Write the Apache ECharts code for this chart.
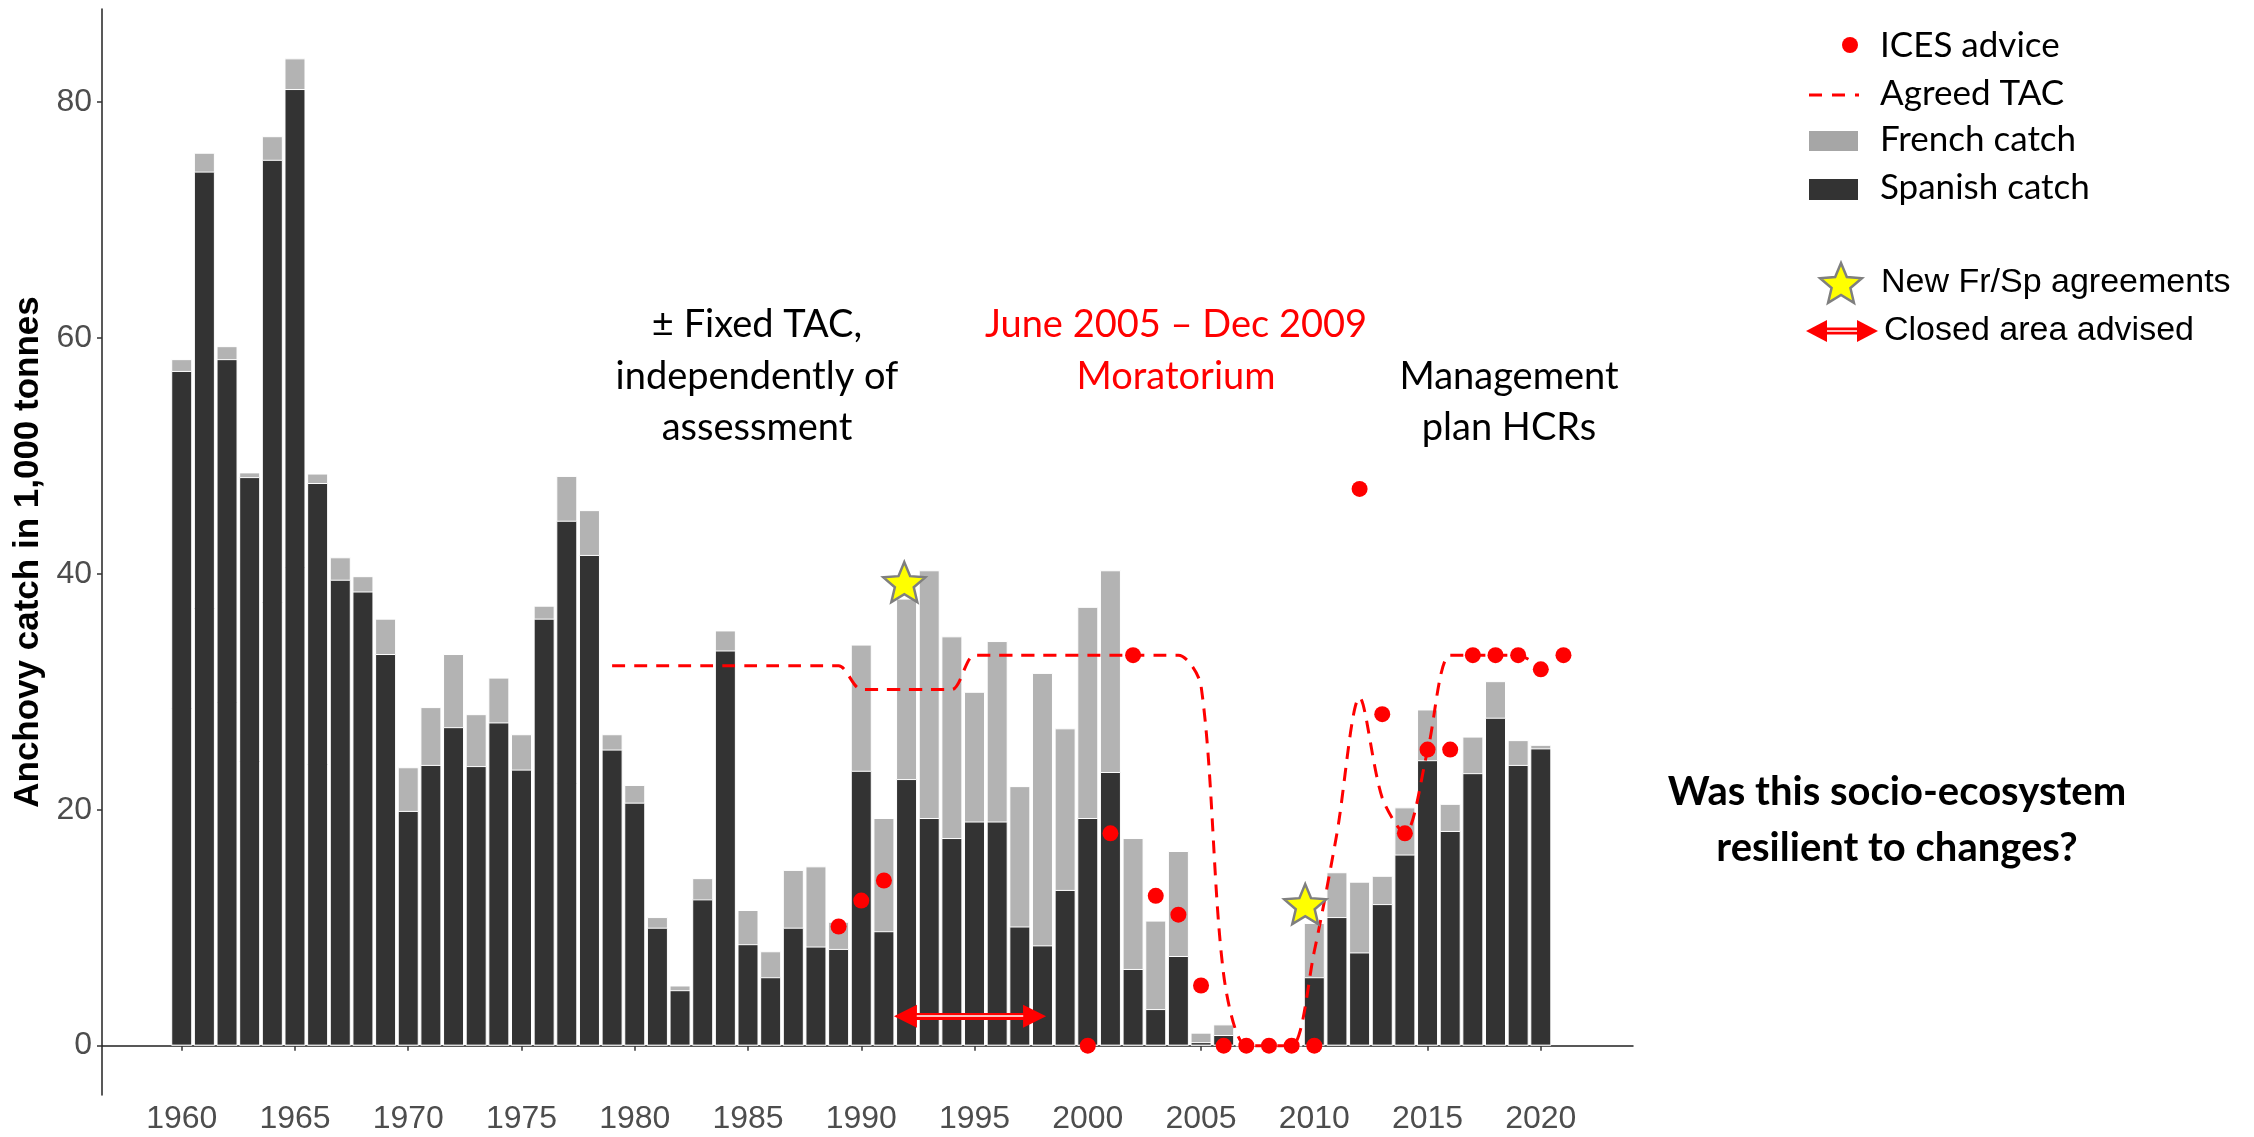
<!DOCTYPE html>
<html>
<head>
<meta charset="utf-8">
<title>Bay of Biscay anchovy catch</title>
<script src="https://cdn.jsdelivr.net/npm/echarts@6/dist/echarts.min.js"></script>
<style>
html, body { margin: 0; padding: 0; background: #fff; }
#chart { width: 2254px; height: 1137px; }
</style>
</head>
<body>
<div id="chart"></div>
<script>
// catch per year, thousand tonnes
var years = [1960, 1961, 1962, 1963, 1964, 1965, 1966, 1967, 1968, 1969,
  1970, 1971, 1972, 1973, 1974, 1975, 1976, 1977, 1978, 1979,
  1980, 1981, 1982, 1983, 1984, 1985, 1986, 1987, 1988, 1989,
  1990, 1991, 1992, 1993, 1994, 1995, 1996, 1997, 1998, 1999,
  2000, 2001, 2002, 2003, 2004, 2005, 2006, 2007, 2008, 2009,
  2010, 2011, 2012, 2013, 2014, 2015, 2016, 2017, 2018, 2019, 2020]
var spanish = [57.2, 74.1, 58.2, 48.2, 75.1, 81.1, 47.7, 39.5, 38.5, 33.2,
  19.9, 23.8, 27.0, 23.7, 27.4, 23.4, 36.2, 44.5, 41.6, 25.1,
  20.6, 10.0, 4.7, 12.4, 33.5, 8.6, 5.8, 10.0, 8.4, 8.2,
  23.3, 9.7, 22.6, 19.3, 17.6, 19.0, 19.0, 10.1, 8.5, 13.2,
  19.3, 23.2, 6.5, 3.1, 7.6, 0.3, 0.9, 0, 0, 0,
  5.8, 10.9, 7.9, 12.0, 16.2, 24.2, 18.2, 23.1, 27.8, 23.8, 25.2]
var french = [1.0, 1.6, 1.1, 0.4, 2.0, 2.6, 0.8, 1.9, 1.3, 3.0,
  3.7, 4.9, 6.2, 4.4, 3.8, 3.0, 1.1, 3.8, 3.8, 1.3,
  1.5, 0.9, 0.4, 1.8, 1.7, 2.9, 2.2, 4.9, 6.8, 2.3,
  10.7, 9.6, 15.3, 21.0, 17.1, 11.0, 15.3, 11.9, 23.1, 13.7,
  17.9, 17.1, 11.1, 7.5, 8.9, 0.8, 0.9, 0, 0, 0,
  4.6, 3.8, 6.0, 2.4, 4.0, 4.3, 2.3, 3.1, 3.1, 2.1, 0.3]

// ICES advice
var adviceYears = [1989, 1990, 1991, 2000, 2001, 2002, 2003, 2004, 2005, 2006, 2007, 2008,
  2009, 2010, 2012, 2013, 2014, 2015, 2016, 2017, 2018, 2019, 2020, 2021]
var adviceValues = [10.1, 12.3, 14.0, 0, 18.0, 33.1, 12.7, 11.1, 5.1, 0, 0, 0,
  0, 0, 47.2, 28.1, 18.0, 25.1, 25.1, 33.1, 33.1, 33.1, 31.9, 33.1]

// agreed TAC
var tacYears = [1979, 1980, 1981, 1982, 1983, 1984, 1985, 1986, 1987, 1988, 1989,
  1990, 1991, 1992, 1993, 1994, 1995, 1996, 1997, 1998, 1999,
  2000, 2001, 2002, 2003, 2004, 2005, 2006, 2007, 2008, 2009,
  2010, 2011, 2012, 2013, 2014, 2015, 2016, 2017, 2018, 2019, 2020]
var tacValues = [32.2, 32.2, 32.2, 32.2, 32.2, 32.2, 32.2, 32.2, 32.2, 32.2, 32.2,
  30.2, 30.2, 30.2, 30.2, 30.2, 33.1, 33.1, 33.1, 33.1, 33.1,
  33.1, 33.1, 33.1, 33.1, 33.1, 30.5, 6, 0, 0, 0,
  8, 18, 29.5, 21, 18, 25, 33.1, 33.1, 33.1, 33.1, 32]

// new Fr/Sp agreements (star markers) and closed area advised (arrow tips)
var agreementYears = [1991.9, 2009.6]
var agreementLevels = [39.3, 12.0]
var closedArea = [1991.45, 1998.15]
var closedLevel = 2.5

var xTicks = [1960, 1965, 1970, 1975, 1980, 1985, 1990, 1995, 2000, 2005, 2010, 2015, 2020]
var yTicks = [0, 20, 40, 60, 80]

function starPoints(cx, cy, r, inner) {
  var pts = []
  for (var i = 0; i < 10; i++) {
    var a = -Math.PI / 2 + i * Math.PI / 5
    var rr = i % 2 ? r * inner : r
    pts.push([cx + rr * Math.cos(a), cy + rr * Math.sin(a)])
  }
  return pts
}
var starPath = 'path://' + starPoints(0, 0, 10, 0.45).map(function (p, i) {
  return (i ? 'L' : 'M') + p[0].toFixed(3) + ' ' + p[1].toFixed(3)
}).join(' ') + ' Z'

var totalData = years.map(function (y, i) { return [y, +(spanish[i] + french[i]).toFixed(1)] })
var spanishData = years.map(function (y, i) { return [y, spanish[i]] })
var adviceData = adviceYears.map(function (y, i) { return [y, adviceValues[i]] })
var tacData = tacYears.map(function (y, i) { return [y, tacValues[i]] })
var starData = agreementYears.map(function (y, i) { return [y, agreementLevels[i]] })

// arrow head is ~23px long, about one year on this axis
var headYr = 1.0

var RED = '#ff0000'
var calibri = 'Lato'

function txt(x, y, s, opts) {
  opts = opts || {}
  return {
    type: 'text', x: x, y: y, z: 100,
    style: {
      text: s,
      fontFamily: opts.family || calibri,
      fontSize: opts.size || 38,
      fontWeight: opts.weight || 'normal',
      fill: opts.color || '#000',
      align: opts.align || 'center',
      verticalAlign: 'middle'
    }
  }
}

var chart = echarts.init(document.getElementById('chart'))

var option = {
  animation: false,
  backgroundColor: '#fff',
  grid: {
    left: 102, right: 621, top: 9, bottom: 42,
    containLabel: false, outerBoundsMode: 'none'
  },
  xAxis: {
    type: 'value',
    min: 1956.48, max: 2024.07,
    splitLine: { show: false },
    axisLine: { lineStyle: { color: '#222', width: 1.5 } },
    axisTick: { customValues: xTicks, length: 5, lineStyle: { color: '#333', width: 1.5 } },
    axisLabel: {
      customValues: xTicks, margin: 8,
      formatter: function (v) { return String(v) },
      color: '#4d4d4d', fontSize: 32, fontFamily: 'Liberation Sans'
    }
  },
  yAxis: {
    type: 'value',
    min: -4.185, max: 87.885,
    name: 'Anchovy catch in 1,000 tonnes',
    nameLocation: 'middle',
    nameGap: 50,
    nameTextStyle: { fontFamily: 'Liberation Sans', fontWeight: 'bold', fontSize: 35, color: '#000' },
    splitLine: { show: false },
    axisLine: { show: true, lineStyle: { color: '#222', width: 1.5 } },
    axisTick: { show: true, customValues: yTicks, length: 5, lineStyle: { color: '#333', width: 1.5 } },
    axisLabel: {
      customValues: yTicks, margin: 10,
      formatter: function (v) { return String(v) },
      color: '#4d4d4d', fontSize: 32, fontFamily: 'Liberation Sans'
    }
  },
  series: [{
    name: 'French catch',
    type: 'bar',
    data: totalData,
    barWidth: 21,
    itemStyle: { color: '#b3b3b3', borderColor: '#fff', borderWidth: 1 }
  }, {
    name: 'Spanish catch',
    type: 'bar',
    data: spanishData,
    barWidth: 21,
    barGap: '-100%',
    itemStyle: { color: '#333333', borderColor: '#fff', borderWidth: 1 }
  }, {
    name: 'Agreed TAC',
    type: 'line',
    data: tacData,
    smooth: 0.3,
    showSymbol: false,
    lineStyle: { color: RED, width: 3, type: [13, 9] },
    z: 3
  }, {
    name: 'ICES advice',
    type: 'scatter',
    data: adviceData,
    symbolSize: 16,
    itemStyle: { color: RED, opacity: 1 },
    z: 4
  }, {
    name: 'New Fr/Sp agreements',
    type: 'scatter',
    data: starData,
    symbol: starPath,
    symbolSize: 42,
    symbolKeepAspect: true,
    itemStyle: { color: '#ffff00', borderColor: '#7f7f7f', borderWidth: 2.5, opacity: 1 },
    z: 5
  }, {
    name: 'Closed area advised',
    type: 'lines',
    coordinateSystem: 'cartesian2d',
    data: [{ coords: [[closedArea[0] + headYr / 2, closedLevel], [closedArea[1] - headYr / 2, closedLevel]] }],
    symbol: ['triangle', 'triangle'],
    symbolSize: 23,
    lineStyle: { color: RED, width: 7, opacity: 1 },
    z: 5
  }, {
    type: 'lines',
    coordinateSystem: 'cartesian2d',
    data: [{ coords: [[closedArea[0] + headYr, closedLevel], [closedArea[1] - headYr, closedLevel]] }],
    symbol: 'none',
    lineStyle: { color: '#fff', width: 1.6, opacity: 1 },
    z: 6
  }],
  graphic: [
    // legend
    { type: 'circle', shape: { cx: 1850, cy: 45, r: 8 }, style: { fill: RED } },
    { type: 'line', shape: { x1: 1809, y1: 95, x2: 1859, y2: 95 }, style: { stroke: RED, lineWidth: 3, lineDash: [13, 10] } },
    { type: 'rect', shape: { x: 1809, y: 131, width: 49, height: 20 }, style: { fill: '#a6a6a6' } },
    { type: 'rect', shape: { x: 1809, y: 179, width: 49, height: 21 }, style: { fill: '#333333' } },
    txt(1880, 46, 'ICES advice', { align: 'left', size: 35 }),
    txt(1880, 94, 'Agreed TAC', { align: 'left', size: 35 }),
    txt(1880, 140, 'French catch', { align: 'left', size: 35 }),
    txt(1880, 188, 'Spanish catch', { align: 'left', size: 35 }),
    { type: 'polygon', shape: { points: starPoints(1841, 285, 22, 0.45) },
      style: { fill: '#ffff00', stroke: '#7f7f7f', lineWidth: 2.5 } },
    txt(1881, 283, 'New Fr/Sp agreements', { align: 'left', size: 34, family: 'Liberation Sans' }),
    { type: 'line', shape: { x1: 1824, y1: 331, x2: 1860, y2: 331 }, style: { stroke: RED, lineWidth: 7 } },
    { type: 'line', shape: { x1: 1826, y1: 331, x2: 1858, y2: 331 }, style: { stroke: '#fff', lineWidth: 1.5 } },
    { type: 'polygon', shape: { points: [[1806, 331], [1827, 320], [1827, 342]] }, style: { fill: RED } },
    { type: 'polygon', shape: { points: [[1878, 331], [1857, 320], [1857, 342]] }, style: { fill: RED } },
    txt(1884, 331, 'Closed area advised', { align: 'left', size: 34, family: 'Liberation Sans' }),
    // annotations
    txt(757, 325, '± Fixed TAC,'),
    txt(757, 377, 'independently of'),
    txt(757, 428, 'assessment'),
    txt(1176, 325, 'June 2005 – Dec 2009', { color: RED }),
    txt(1176, 377, 'Moratorium', { color: RED }),
    txt(1509, 377, 'Management'),
    txt(1509, 428, 'plan HCRs'),
    txt(1897, 792, 'Was this socio-ecosystem', { weight: 'bold', size: 40 }),
    txt(1897, 848, 'resilient to changes?', { weight: 'bold', size: 40 })
  ]
}

chart.setOption(option)
</script>
</body>
</html>
